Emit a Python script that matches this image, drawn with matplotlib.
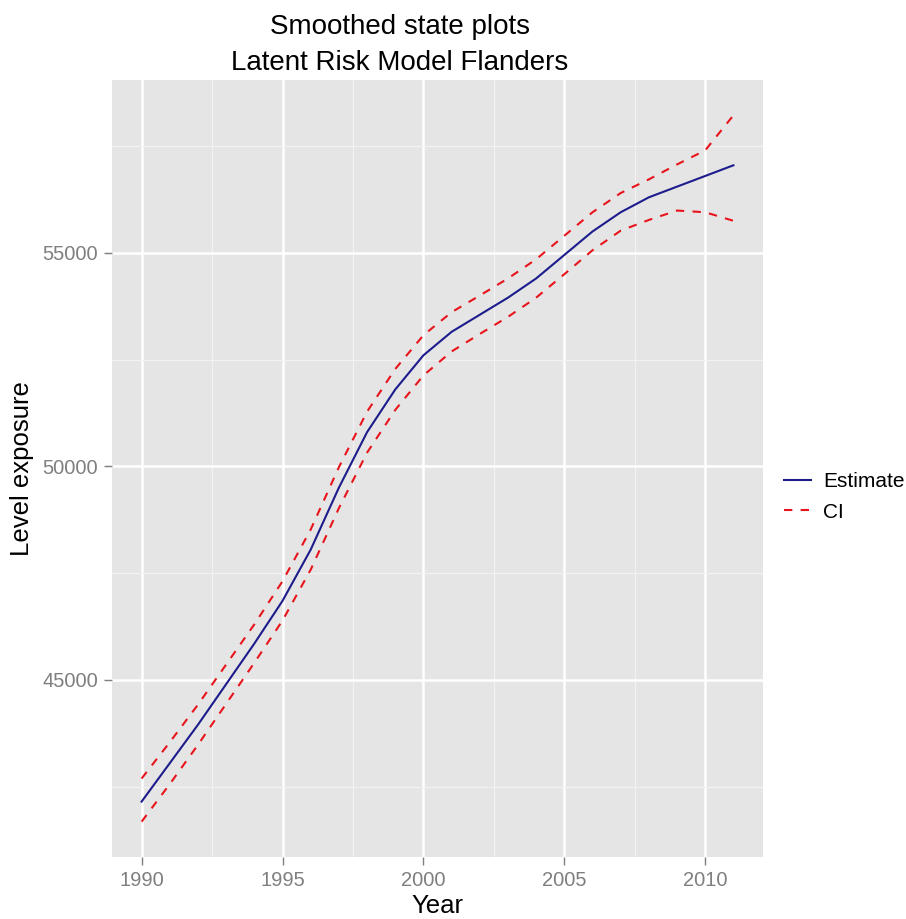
import matplotlib.pyplot as plt
import numpy as np
from matplotlib.ticker import MultipleLocator

plt.rcParams["font.family"] = ["Liberation Sans", "DejaVu Sans"]

# smoothed level of exposure, Flanders
years = np.arange(1990, 2012)
estimate = [42150, 43050, 43950, 44900, 45850, 46850, 48050, 49500, 50800, 51800,
            52600, 53150, 53550, 53950, 54400, 54950, 55500, 55950, 56300, 56550,
            56800, 57050]
ci_upper = [42690, 43540, 44420, 45360, 46300, 47310, 48520, 49980, 51280, 52280,
            53070, 53610, 54000, 54400, 54850, 55400, 55950, 56400, 56720, 57070,
            57400, 58220]
ci_lower = [41680, 42560, 43480, 44440, 45400, 46390, 47580, 49020, 50320, 51320,
            52130, 52690, 53100, 53500, 53950, 54500, 55060, 55520, 55770, 55990,
            55950, 55750]

W, H = 906, 919
fig = plt.figure(figsize=(W / 100, H / 100), dpi=100)
ax = fig.add_axes([112 / W, 1 - 857 / H, (763 - 112) / W, (857 - 80) / H])

ax.set_facecolor("#E5E5E5")
for s in ax.spines.values():
    s.set_visible(False)

ax.plot(years, estimate, color="#1C1C8C", lw=1.5, label="Estimate", zorder=3)
ax.plot(years, ci_upper, color="#E8141C", lw=1.5, dashes=(4, 4), label="CI", zorder=3)
ax.plot(years, ci_lower, color="#E8141C", lw=1.5, dashes=(4, 4), zorder=3)

# ggplot-style 5% expansion
x0, x1 = years.min(), years.max()
dx = (x1 - x0) * 0.05
ax.set_xlim(x0 - dx, x1 + dx)
y0, y1 = min(ci_lower), max(ci_upper)
dy = (y1 - y0) * 0.05
ax.set_ylim(y0 - dy, y1 + dy)

ax.xaxis.set_major_locator(MultipleLocator(5))
ax.xaxis.set_minor_locator(MultipleLocator(2.5))
ax.yaxis.set_major_locator(MultipleLocator(5000))
ax.yaxis.set_minor_locator(MultipleLocator(2500))
ax.grid(which="major", color="white", lw=1.8)
ax.grid(which="minor", color="#F2F2F2", lw=0.9)
ax.set_axisbelow(True)

ax.tick_params(which="major", length=6, width=1, color="#7F7F7F",
               labelcolor="#7F7F7F", labelsize=14.5, pad=4)
ax.tick_params(which="minor", length=0)

ax.set_xlabel("Year", fontsize=18.5, labelpad=3)
ax.set_ylabel("Level exposure", fontsize=18.5, labelpad=6)

fig.text(400 / W, 1 - 45 / H, "Smoothed state plots\nLatent Risk Model Flanders",
         ha="center", va="center", fontsize=20, linespacing=1.55)

ax.legend(loc="center left", bbox_to_anchor=(765 / W, 1 - 497 / H),
          bbox_transform=fig.transFigure, frameon=False, fontsize=15,
          handlelength=1.3, handletextpad=0.6, labelspacing=0.55)

fig.savefig("out.png", dpi=100)
